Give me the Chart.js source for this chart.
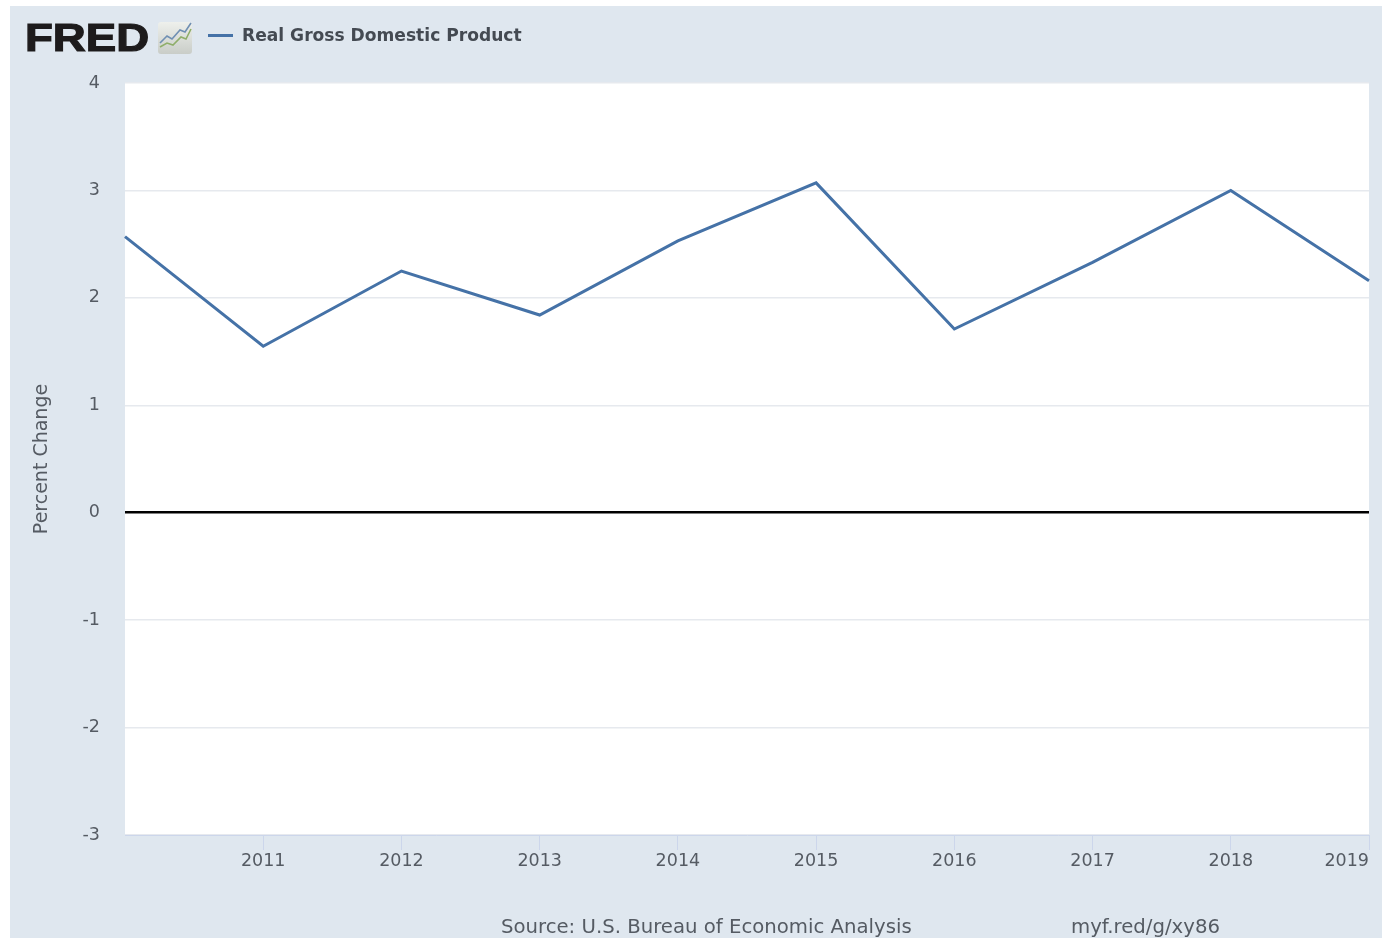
<!DOCTYPE html>
<html lang="en">
<head>
    <meta charset="UTF-8">
    <title>Real Gross Domestic Product</title>
    <script src="https://cdn.jsdelivr.net/npm/chart.js@4/dist/chart.umd.js"></script>
    <style>
        html, body { margin: 0; padding: 0; background: #fff; }
        #page { position: relative; width: 1382px; height: 938px; overflow: hidden; font-family: "DejaVu Sans", sans-serif; }
        #panel { position: absolute; left: 10px; top: 6px; right: 0; bottom: 0; background: #dfe7ef; }
        #myChart { position: absolute; left: 0; top: 0; }
        .abs { position: absolute; white-space: nowrap; }
        #logo { left: 25px; top: 15px; font-family: "Liberation Sans", sans-serif; font-size: 39px; line-height: 46px; font-weight: bold; color: #1d1b1c;
                -webkit-text-stroke: 1.2px #1d1b1c; transform: scaleX(1.17); transform-origin: left top; }
        #icon { left: 157px; top: 21px; }
        #legendLine { left: 208px; top: 34px; width: 25px; height: 3px; background: #4572a7; }
        #legendText { left: 242px; top: 23px; font-size: 17.1px; line-height: 24px; font-weight: bold; color: #444a52; }
        .foot { top: 916px; font-size: 19.7px; line-height: 22px; color: #555b63; }
    </style>
</head>
<body>
<div id="page">
    <div id="panel"></div>
    <canvas id="myChart" width="1382" height="938"></canvas>
    <div class="abs" id="logo">FRED</div>
    <svg class="abs" id="icon" width="36" height="34" viewBox="0 0 36 34">
        <defs>
            <linearGradient id="iconBg" x1="0" y1="0" x2="0" y2="1">
                <stop offset="0" stop-color="#eef0ec"/>
                <stop offset="1" stop-color="#c9cdc8"/>
            </linearGradient>
        </defs>
        <rect x="1" y="1" width="34" height="32" rx="3" fill="url(#iconBg)"/>
        <polyline points="3,22 10,15 15,18 23,9 28,11 34,2" fill="none" stroke="#6f8fb3" stroke-width="1.6"/>
        <polyline points="3,26 10,22 16,24 24,16 29,18 34,8" fill="none" stroke="#8fae6a" stroke-width="1.6"/>
    </svg>
    <div class="abs" id="legendLine"></div>
    <div class="abs" id="legendText"></div>
    <div class="abs foot" style="left:501px">Source: U.S. Bureau of Economic Analysis</div>
    <div class="abs foot" style="left:1071px">myf.red/g/xy86</div>
</div>
<script>
    const seriesName = "Real Gross Domestic Product";
    const years = ["2010", "2011", "2012", "2013", "2014", "2015", "2016", "2017", "2018", "2019"];
    const gdpChange = [2.57, 1.55, 2.25, 1.84, 2.53, 3.07, 1.71, 2.33, 3.0, 2.16];
    const yAxisTitle = "Percent Change";

    document.getElementById('legendText').textContent = seriesName;

    const labelColor = "#555b63";
    const labelFont = { family: "'DejaVu Sans', sans-serif", size: 17.5 };

    // white plot background behind the grid
    const plotBackground = {
        id: 'plotBackground',
        beforeDraw(chart) {
            const { ctx, chartArea: a } = chart;
            ctx.save();
            ctx.fillStyle = "#fff";
            ctx.fillRect(a.left, a.top, a.right - a.left, a.bottom - a.top);
            ctx.restore();
        }
    };

    new Chart(document.getElementById('myChart'), {
        type: 'line',
        plugins: [plotBackground],
        data: {
            labels: years,
            datasets: [{
                label: seriesName,
                data: gdpChange,
                borderColor: "#4572a7",
                borderWidth: 3,
                pointRadius: 0,
                tension: 0,
            }]
        },
        options: {
            responsive: false,
            animation: false,
            layout: {
                autoPadding: false,
                padding: { top: 83, left: 31, right: 13, bottom: 0 },
            },
            plugins: {
                legend: { display: false },
                tooltip: { enabled: false },
            },
            scales: {
                x: {
                    offset: false,
                    afterFit(scale) { scale.height = 103; },
                    border: { color: "#ccd6eb", width: 1 },
                    grid: {
                        drawOnChartArea: false,
                        tickLength: 15,
                        // 2010 has neither a label nor a tick mark
                        color: (c) => c.index === 0 ? "rgba(0,0,0,0)" : "#ccd6eb",
                    },
                    ticks: {
                        align: 'inner',
                        autoSkip: false,
                        maxRotation: 0,
                        padding: 1,
                        color: labelColor,
                        font: labelFont,
                        callback(value, index) { return index === 0 ? "" : years[index]; },
                    },
                },
                y: {
                    min: -3,
                    max: 4,
                    afterFit(scale) { scale.width = 94; },
                    border: { display: false },
                    grid: {
                        drawTicks: false,
                        color: (c) => c.tick.value === 0 ? "#000" : "#e6e9ee",
                        lineWidth: (c) => c.tick.value === 0 ? 2.5 : 1.5,
                    },
                    ticks: {
                        stepSize: 1,
                        padding: 25,
                        color: labelColor,
                        font: labelFont,
                    },
                    title: {
                        display: true,
                        text: yAxisTitle,
                        color: labelColor,
                        font: { family: "'DejaVu Sans', sans-serif", size: 19 },
                        padding: { top: 0, bottom: 0 },
                    },
                },
            },
        },
    });
</script>
</body>
</html>
